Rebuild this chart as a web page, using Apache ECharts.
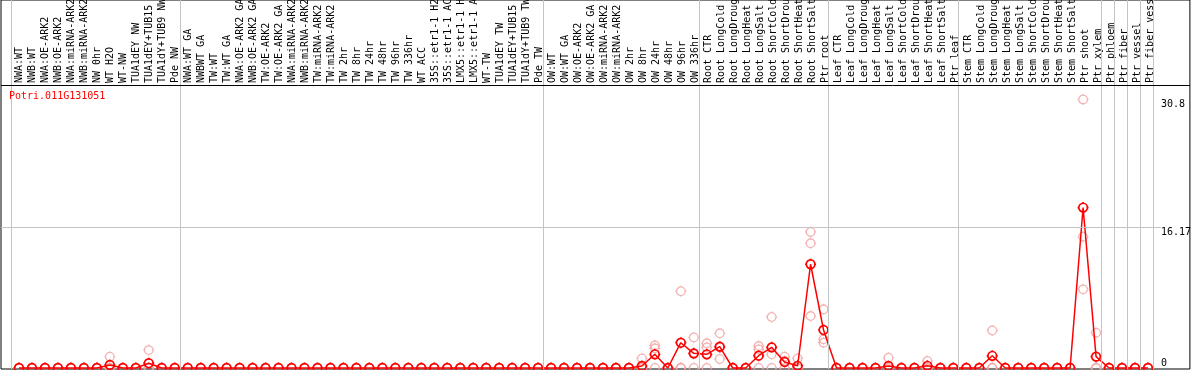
<!DOCTYPE html>
<html>
<head>
<meta charset="utf-8">
<script src="https://cdn.jsdelivr.net/npm/echarts@6/dist/echarts.min.js"></script>
<style>
  html, body { margin: 0; padding: 0; background: #fff; }
  #chart { width: 1194px; height: 370px; }
</style>
</head>
<body>
<div id="chart"></div>
<script>
// ---------------- data ----------------
const geneName = 'Potri.011G131051';

const categories = [
  'NWA:WT','NWB:WT','NWA:OE-ARK2','NWB:OE-ARK2','NWA:miRNA-ARK2','NWB:miRNA-ARK2','NW 0hr','WT H2O','WT-NW','TUA1dEY NW',
  'TUA1dEY+TUB15','TUA1dY+TUB9 NW','Pde NW','NWA:WT GA','NWBWT GA','TW:WT','TW:WT GA','NWA:OE-ARK2 GA','NWB:OE-ARK2 GA','TW:OE-ARK2',
  'TW:OE-ARK2 GA','NWA:miRNA-ARK2','NWB:miRNA-ARK2','TW:miRNA-ARK2','TW:miRNA-ARK2','TW 2hr','TW 8hr','TW 24hr','TW 48hr','TW 96hr',
  'TW 336hr','WT ACC','35S::etr1-1 H2','35S::etr1-1 AC','LMX5::etr1-1 H','LMX5::etr1-1 A','WT-TW','TUA1dEY TW','TUA1dEY+TUB15','TUA1dY+TUB9 TW',
  'Pde TW','OW:WT','OW:WT GA','OW:OE-ARK2','OW:OE-ARK2 GA','OW:miRNA-ARK2','OW:miRNA-ARK2','OW 2hr','OW 8hr','OW 24hr',
  'OW 48hr','OW 96hr','OW 336hr','Root CTR','Root LongCold','Root LongDroug','Root LongHeat','Root LongSalt','Root ShortCold','Root ShortDrou',
  'Root ShortHeat','Root ShortSalt','Ptr root','Leaf CTR','Leaf LongCold','Leaf LongDroug','Leaf LongHeat','Leaf LongSalt','Leaf ShortCold','Leaf ShortDrou',
  'Leaf ShortHeat','Leaf ShortSalt','Ptr leaf','Stem CTR','Stem LongCold','Stem LongDroug','Stem LongHeat','Stem LongSalt','Stem ShortCold','Stem ShortDrou',
  'Stem ShortHeat','Stem ShortSalt','Ptr shoot','Ptr xylem','Ptr phloem','Ptr fiber','Ptr vessel','Ptr fiber vess'
];

// mean expression per sample (red line)
const meanValues = [
  0,0,0,0,0,0,0,0.35,0,0,
  0.55,0,0,0,0,0,0,0,0,0,
  0,0,0,0,0,0,0,0,0,0,
  0,0,0,0,0,0,0,0,0,0,
  0,0,0,0,0,0,0,0,0.23,1.57,
  0,2.9,1.68,1.57,2.45,0,0,1.41,2.37,0.69,
  0.25,11.9,4.36,0,0,0,0,0.23,0,0,
  0.25,0,0,0,0,1.4,0,0,0,0,
  0,0,18.4,1.3,0,0,0,0
];

// individual replicates (pale markers)
const replicate1 = [
  0,0,0,0,0,0,0,1.3,0,0,
  2.05,0,0,0,0,0,0,0,0,0,
  0,0,0,0,0,0,0,0,0,0,
  0,0,0,0,0,0,0,0,0,0,
  0,0,0,0,0,0,0,0,1.1,2.6,
  0,8.8,3.5,2.83,3.98,0,0,2.52,5.85,1.3,
  1.1,15.6,6.73,0,0,0,0,1.18,0,0,
  0.8,0,0,0,0,4.3,0,0,0,0,
  0,0,30.8,4.05,0,0,0,0
];
const replicate2 = [
  0,0,0,0,0,0,0,0,0,0,
  0,0,0,0,0,0,0,0,0,0,
  0,0,0,0,0,0,0,0,0,0,
  0,0,0,0,0,0,0,0,0,0,
  0,0,0,0,0,0,0,0,0,2.26,
  0,0,1.6,2.37,2.34,0,0,2.14,1.57,0.8,
  0,14.3,3.29,0,0,0,0,0,0,0,
  0,0,0,0,0,0,0,0,0,0,
  0,0,15.06,0,0,0,0,0
];
const replicate3 = [
  0,0,0,0,0,0,0,0,0,0,
  0,0,0,0,0,0,0,0,0,0,
  0,0,0,0,0,0,0,0,0,0,
  0,0,0,0,0,0,0,0,0,0,
  0,0,0,0,0,0,0,0,0,0,
  0,0,0,0,1.03,0,0,0,0,0,
  0,5.96,2.9,0,0,0,0,0,0,0,
  0,0,0,0,0,0,0,0,0,0,
  0,0,9.02,0,0,0,0,0
];

// first sample of each experiment group (0-based), plus end
const groupStarts = [0, 13, 41, 53, 63, 73, 84, 85, 86, 87, 88];

// y-axis labels
const yLabelsUpper = [16.17, 30.8];
const yLabelsLower = [0];
const dataMax = 30.8;

// ---------------- layout ----------------
const FRAME_LEFT = 1, FRAME_RIGHT = 1192;
const FIRST_X = 19, STEP = 13;
const LABEL_BOTTOM = 85;
const PLOT_TOP = 86, PLOT_ZERO = 368, FRAME_BOTTOM = 369;

const yMax = dataMax * 1.05;
const pxPerUnit = (PLOT_ZERO - PLOT_TOP) / yMax;
const yMin = -(FRAME_BOTTOM - PLOT_ZERO) / pxPerUnit;
const yTopVal = PLOT_ZERO / pxPerUnit;
const dividerVal = (PLOT_ZERO - LABEL_BOTTOM) / pxPerUnit;

const xMin = (FRAME_LEFT - FIRST_X) / STEP;
const xMax = (FRAME_RIGHT - FIRST_X) / STEP;

const FONT = 'DejaVu Sans Mono';
// ring with four tiny ticks (bezier circle in an 11x11 box)
const MARKER = 'path://M9.8 5.5C9.8 7.875 7.875 9.8 5.5 9.8C3.125 9.8 1.2 7.875 1.2 5.5C1.2 3.125 3.125 1.2 5.5 1.2C7.875 1.2 9.8 3.125 9.8 5.5Z' +
               'M5.5 0L5.5 1.2M5.5 9.8L5.5 11M0 5.5L1.2 5.5M9.8 5.5L11 5.5';

const meanData = meanValues.map((v, i) => [i, v]);
const repData = [];
[replicate1, replicate2, replicate3].forEach(arr => arr.forEach((v, i) => repData.push([i, v])));

const chart = echarts.init(document.getElementById('chart'), null, { renderer: 'canvas' });

chart.setOption({
  animation: false,
  backgroundColor: '#fff',
  title: {
    text: geneName, left: 9, top: 91, padding: 0,
    textStyle: { color: '#ff0000', fontFamily: FONT, fontSize: 10, fontWeight: 'normal' }
  },
  grid: [
    { left: FRAME_LEFT, top: 0, width: FRAME_RIGHT - FRAME_LEFT, height: FRAME_BOTTOM,
      show: true, borderColor: '#000', borderWidth: 1, backgroundColor: 'transparent' },
    { left: FIRST_X - STEP / 2, top: 0, width: STEP * categories.length, height: LABEL_BOTTOM,
      show: false }
  ],
  xAxis: [
    { type: 'value', gridIndex: 0, min: xMin, max: xMax, show: false },
    { type: 'category', gridIndex: 1, data: categories, position: 'bottom', boundaryGap: true,
      axisLine: { show: false }, axisTick: { show: false }, splitLine: { show: false },
      axisLabel: { inside: true, rotate: 90, interval: 0, margin: 2, color: '#000',
        fontFamily: FONT, fontSize: 10 } }
  ],
  yAxis: [
    { type: 'value', gridIndex: 0, min: yMin, max: yTopVal, position: 'right',
      axisLine: { show: false }, axisTick: { show: false }, splitLine: { show: false },
      axisLabel: { inside: true, align: 'left', margin: FRAME_RIGHT - 1163, verticalAlign: 'top',
        customValues: yLabelsUpper, color: '#000', fontFamily: FONT, fontSize: 10,
        formatter: v => String(v) } },
    { type: 'value', gridIndex: 0, min: yMin, max: yTopVal, position: 'right',
      axisLine: { show: false }, axisTick: { show: false }, splitLine: { show: false },
      axisLabel: { inside: true, align: 'left', margin: FRAME_RIGHT - 1163, verticalAlign: 'bottom',
        customValues: yLabelsLower, color: '#000', fontFamily: FONT, fontSize: 10,
        formatter: v => String(v) } },
    { type: 'value', gridIndex: 1, show: false }
  ],
  series: [
    {
      name: 'replicates', type: 'scatter', xAxisIndex: 0, yAxisIndex: 0,
      data: repData, symbol: MARKER, symbolSize: 11, z: 3,
      itemStyle: { color: 'transparent', borderColor: '#f0a0a0', borderWidth: 1.3 },
      markLine: {
        silent: true, symbol: 'none', label: { show: false }, animation: false,
        lineStyle: { color: '#c4c4c4', width: 1, type: 'solid' },
        data: groupStarts.map(k => ({ xAxis: k - 0.6 })).concat([
          [ { coord: [xMin, yMax / 2] }, { coord: [categories.length, yMax / 2] } ],
          { yAxis: dividerVal, lineStyle: { color: '#000', width: 1 } }
        ])
      }
    },
    {
      name: 'mean', type: 'line', xAxisIndex: 0, yAxisIndex: 0,
      data: meanData, symbol: MARKER, symbolSize: 11, showAllSymbol: true, z: 4,
      lineStyle: { color: '#ff0000', width: 1.5 },
      itemStyle: { color: 'transparent', borderColor: '#ff0000', borderWidth: 1.7 }
    }
  ]
});
</script>
</body>
</html>
